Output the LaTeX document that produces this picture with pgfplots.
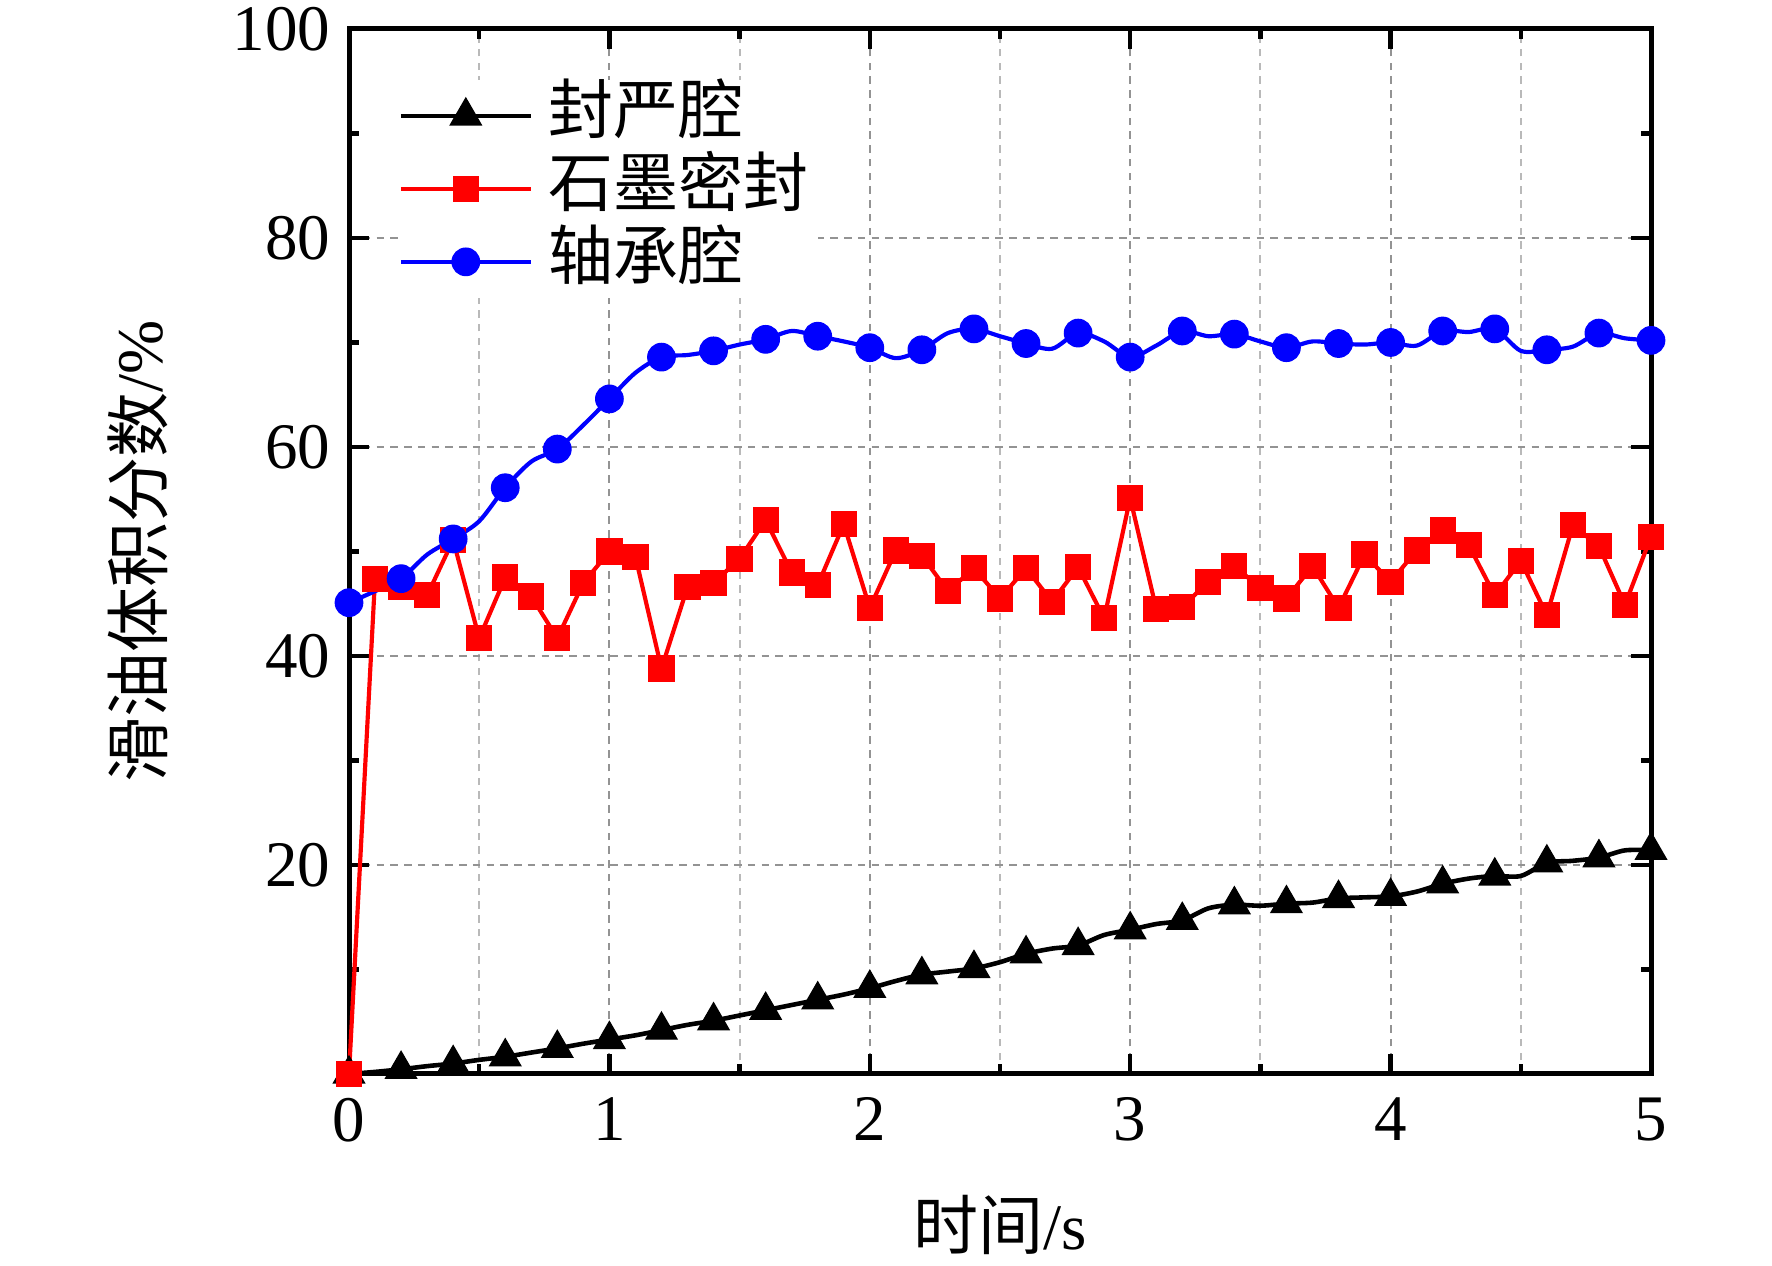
\documentclass[border=0pt]{standalone}
\usepackage{fontspec}
\setmainfont{Liberation Serif}
\newfontfamily\cjk{Noto Sans CJK SC}
\usepackage{pgfplots}
\pgfplotsset{compat=1.18}
\usepackage{pgfplotstable}

\pgfplotstableread{
t v
0.0 0.0
0.1 0.2
0.2 0.45
0.3 0.75
0.4 1.0
0.5 1.35
0.6 1.65
0.7 2.05
0.8 2.45
0.9 2.9
1.0 3.3
1.1 3.7
1.2 4.2
1.3 4.7
1.4 5.1
1.5 5.6
1.6 6.1
1.7 6.6
1.8 7.1
1.9 7.6
2.0 8.2
2.1 8.9
2.2 9.5
2.3 9.8
2.4 10.1
2.5 10.7
2.6 11.5
2.7 12.0
2.8 12.3
2.9 13.3
3.0 13.8
3.1 14.35
3.2 14.7
3.3 15.85
3.4 16.2
3.5 16.1
3.6 16.3
3.7 16.4
3.8 16.8
3.9 16.9
4.0 17.0
4.1 17.45
4.2 18.2
4.3 18.7
4.4 18.95
4.5 18.95
4.6 20.2
4.7 20.4
4.8 20.7
4.9 21.4
5.0 21.4
}\seal

\pgfplotstableread{
t v
0.0 0.0
0.1 47.4
0.2 46.6
0.3 45.8
0.4 51.1
0.5 41.7
0.6 47.5
0.7 45.7
0.8 41.7
0.9 47.0
1.0 50.0
1.1 49.5
1.2 38.8
1.3 46.6
1.4 47.0
1.5 49.3
1.6 53.0
1.7 48.0
1.8 46.8
1.9 52.6
2.0 44.6
2.1 50.1
2.2 49.6
2.3 46.2
2.4 48.4
2.5 45.5
2.6 48.4
2.7 45.2
2.8 48.5
2.9 43.6
3.0 55.1
3.1 44.5
3.2 44.7
3.3 47.1
3.4 48.6
3.5 46.5
3.6 45.5
3.7 48.6
3.8 44.6
3.9 49.7
4.0 47.1
4.1 50.1
4.2 52.0
4.3 50.6
4.4 45.8
4.5 49.1
4.6 43.9
4.7 52.5
4.8 50.5
4.9 44.9
5.0 51.4
}\graphite

\pgfplotstableread{
t v
0.0 45.1
0.1 46.2
0.2 47.4
0.3 49.7
0.4 51.2
0.5 52.9
0.6 56.1
0.7 58.6
0.8 59.8
0.9 62.1
1.0 64.6
1.1 67.1
1.2 68.6
1.3 68.8
1.4 69.2
1.5 69.8
1.6 70.3
1.7 71.1
1.8 70.6
1.9 70.1
2.0 69.5
2.1 68.5
2.2 69.3
2.3 70.9
2.4 71.3
2.5 70.6
2.6 69.9
2.7 69.4
2.8 70.9
2.9 70.1
3.0 68.6
3.1 69.7
3.2 71.1
3.3 70.6
3.4 70.8
3.5 70.1
3.6 69.5
3.7 70.1
3.8 69.9
3.9 69.8
4.0 70.0
4.1 69.7
4.2 71.1
4.3 71.0
4.4 71.3
4.5 69.2
4.6 69.3
4.7 69.6
4.8 70.9
4.9 70.4
5.0 70.2
}\bearing

\begin{document}
\begin{tikzpicture}
\path[use as bounding box] (-83.76pt,-46.08pt) rectangle (341.52pt,257.76pt);
\begin{axis}[
  at={(0pt,0pt)}, anchor=south west,
  scale only axis,
  width=312.48pt, height=250.8pt,
  xmin=0, xmax=5, ymin=0, ymax=100,
  xtick={0,1,2,3,4,5},
  minor x tick num=1,
  ytick={20,40,60,80,100},
  minor ytick={10,30,50,70,90},
  tick align=inside,
  major tick length=4.8pt,
  minor tick length=2.4pt,
  every tick/.style={black, line width=1.1pt},
  axis line style={line width=1.2pt},
  xmajorgrids=true, xminorgrids=true, ymajorgrids=true, yminorgrids=false,
  major grid style={gray!85, line width=0.5pt, dash pattern=on 1.8pt off 1.5pt},
  minor grid style={gray!55, line width=0.5pt, dash pattern=on 1.8pt off 1.5pt},
  /pgf/number format/assume math mode=true,
  tick label style={font=\fontsize{15.6}{18}\selectfont},
  xticklabel style={yshift=-2.2pt},
  yticklabel style={xshift=-1pt},
  label style={font=\fontsize{15.6}{18}\selectfont},
  xlabel={{\cjk 时间}/s},
  ylabel={{\cjk 滑油体积分数}/\%},
  x label style={at={(axis description cs:0.5,-0.1445)}, anchor=center},
  y label style={at={(axis description cs:-0.1625,0.5)}, anchor=center},
  clip=false,
  legend cell align=left,
  legend style={
    at={(0.0374,0.9524)}, anchor=north west,
    draw=none, fill=white, inner sep=0pt, row sep=0pt,
    font=\fontsize{15.6}{18}\selectfont,
    nodes={inner xsep=2.4pt, inner ysep=1.6pt, text height=11.3pt, text depth=3pt},
  },
  legend image code/.code={
    \draw[#1, mark repeat=2, mark phase=2] plot coordinates {(0pt,0pt) (15.6pt,0pt) (31.2pt,0pt)};
    \path (32.4pt,0pt);
  },
]
\addplot[black, line width=1.1pt, smooth, mark=triangle*, mark repeat=2,
  mark size=4.3pt, mark options={solid, fill=black, line width=0.3pt}]
  table[x=t, y=v] {\seal};
\addlegendentry{\cjk 封严腔}
\addplot[red, line width=1pt, mark=square*, mark size=3pt,
  mark options={solid, fill=red, line width=0.3pt}]
  table[x=t, y=v] {\graphite};
\addlegendentry{\cjk 石墨密封}
\addplot[blue, line width=1pt, smooth, mark=*, mark repeat=2, mark size=3.3pt,
  mark options={solid, fill=blue, line width=0.3pt}]
  table[x=t, y=v] {\bearing};
\addlegendentry{\cjk 轴承腔}
\end{axis}
\end{tikzpicture}
\end{document}
